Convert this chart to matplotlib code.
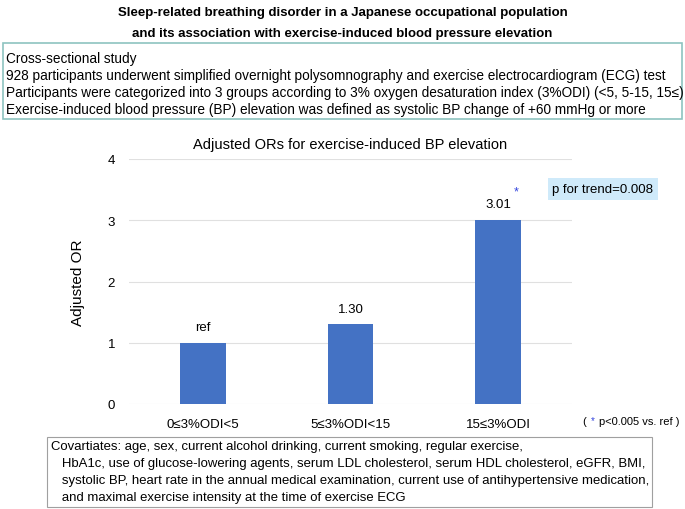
import matplotlib
matplotlib.use('agg')
import matplotlib.pyplot as plt
from matplotlib.patches import Rectangle

plt.rcParams['font.family'] = ['Liberation Sans', 'DejaVu Sans']

# chart data
categories = ['0≤3%ODI<5', '5≤3%ODI<15', '15≤3%ODI']
odds_ratios = [1.00, 1.30, 3.01]
value_labels = ['ref', '1.30', '3.01']
y_ticks = [0, 1, 2, 3, 4]

title_lines = ['Sleep-related breathing disorder in a Japanese occupational population',
               'and its association with exercise-induced blood pressure elevation']
study_lines = [
    'Cross-sectional study',
    '928 participants underwent simplified overnight polysomnography and exercise electrocardiogram (ECG) test',
    'Participants were categorized into 3 groups according to 3% oxygen desaturation index (3%ODI) (<5, 5-15, 15≤)',
    'Exercise-induced blood pressure (BP) elevation was defined as systolic BP change of +60 mmHg or more',
]
covariate_lines = [
    'Covartiates: age, sex, current alcohol drinking, current smoking, regular exercise,',
    '   HbA1c, use of glucose-lowering agents, serum LDL cholesterol, serum HDL cholesterol, eGFR, BMI,',
    '   systolic BP, heart rate in the annual medical examination, current use of antihypertensive medication,',
    '   and maximal exercise intensity at the time of exercise ECG',
]

W, H = 685, 510
fig = plt.figure(figsize=(W / 100, H / 100), dpi=100)


def fx(px):
    return px / W


def fy(py):
    return 1 - py / H


# title
for i, line in enumerate(title_lines):
    fig.text(0.5, fy(13 + 21 * i), line, ha='center', va='center',
             fontsize=9.5, fontweight='bold')

# study description box
fig.patches.append(Rectangle((fx(3), fy(120)), fx(679), 76 / H, transform=fig.transFigure,
                             fill=False, edgecolor='#8ec3c0', linewidth=1.2))
for i, line in enumerate(study_lines):
    fig.text(fx(6), fy(59 + 17 * i), line, ha='left', va='center', fontsize=9.8)

# bar chart
ax = fig.add_axes([fx(129), fy(405), fx(572 - 129), (405 - 160) / H])
x = range(len(categories))
bars = ax.bar(x, odds_ratios, width=0.31, color='#4472c4', zorder=3)
ax.set_ylim(0, 4)
ax.set_xlim(-0.5, len(categories) - 0.5)
ax.set_yticks(y_ticks)
ax.set_xticks(list(x))
ax.set_xticklabels(categories, fontsize=9.5)
ax.tick_params(axis='y', labelsize=9.5, length=0, pad=10)
ax.tick_params(axis='x', length=0, pad=10)
ax.grid(axis='y', color='#e0e0e0', linewidth=0.8, zorder=0)
for s in ax.spines.values():
    s.set_visible(False)
ax.set_ylabel('Adjusted OR', fontsize=11, labelpad=16)
ax.set_title('Adjusted ORs for exercise-induced BP elevation', fontsize=10.5, pad=8)

for b, lbl in zip(bars, value_labels):
    ax.annotate(lbl, (b.get_x() + b.get_width() / 2, b.get_height()),
                xytext=(0, 7), textcoords='offset points', ha='center', va='bottom', fontsize=9.5)

# significance star and trend box
last = bars[-1]
ax.annotate('*', (last.get_x() + last.get_width() / 2, 3.5), xytext=(13, -1),
            textcoords='offset points', ha='center', va='center', color='#3344dd', fontsize=9)
fig.text(fx(603), fy(190), 'p for trend=0.008', ha='center', va='center', fontsize=9.5,
         bbox=dict(boxstyle='square,pad=0.35', facecolor='#cfeafa', edgecolor='none'))

# footnote
fig.text(fx(582), fy(422), '(', ha='left', va='center', fontsize=8)
fig.text(fx(591), fy(421), '*', ha='left', va='center', fontsize=7, color='#3344dd')
fig.text(fx(599), fy(422), 'p<0.005 vs. ref )', ha='left', va='center', fontsize=8)

# covariates box
fig.patches.append(Rectangle((fx(47), fy(508)), fx(605), 70 / H, transform=fig.transFigure,
                             fill=False, edgecolor='#a0a0a0', linewidth=0.8))
for i, line in enumerate(covariate_lines):
    fig.text(fx(51), fy(447 + 17 * i), line, ha='left', va='center', fontsize=9.45)

fig.savefig('out.png', dpi=100)
